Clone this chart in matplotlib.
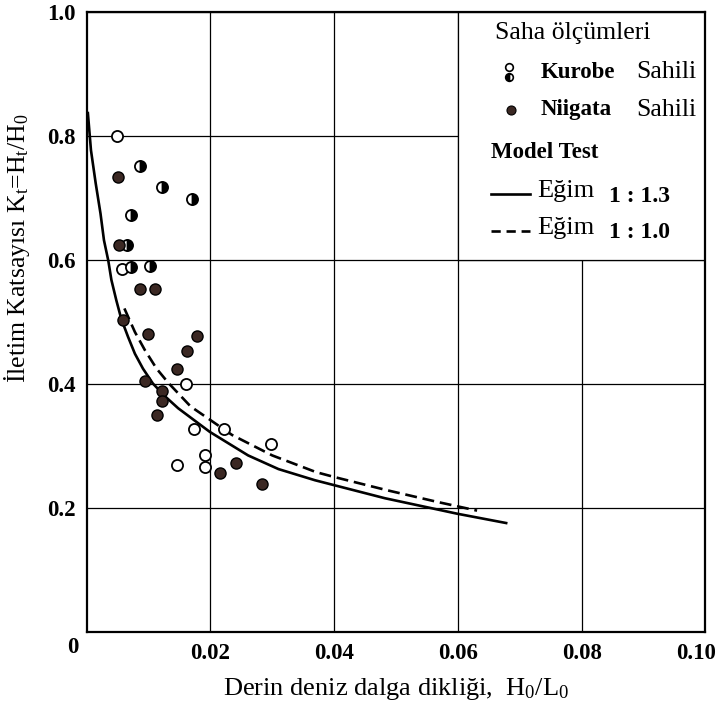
"""
Iletim katsayisi Kt = Ht/H0 terhadap derin deniz dalga dikligi H0/L0.
Saha olcumleri (Kurobe & Niigata) + model test egrileri (egim 1:1.3 dan 1:1.0).
"""

import matplotlib

matplotlib.use("Agg")  # tanpa display
import matplotlib.pyplot as plt
import matplotlib.transforms as mtransforms
from matplotlib.patches import Rectangle

# --- Data: Kurobe Sahili, lingkaran kosong ---
KUROBE_ACIK_X = [0.0049, 0.0057, 0.0160, 0.0173, 0.0222, 0.0298, 0.0191, 0.0146, 0.0192]
KUROBE_ACIK_Y = [0.800, 0.585, 0.400, 0.328, 0.327, 0.304, 0.286, 0.270, 0.266]

# --- Data: Kurobe Sahili, lingkaran setengah isi ---
KUROBE_YARIM_X = [0.0086, 0.0121, 0.0170, 0.0071, 0.0066, 0.0071, 0.0102]
KUROBE_YARIM_Y = [0.752, 0.718, 0.698, 0.672, 0.625, 0.589, 0.590]

# --- Data: Niigata Sahili, lingkaran penuh ---
NIIGATA_X = [0.0050, 0.0053, 0.0086, 0.0111, 0.0059, 0.0099, 0.0178, 0.0163,
             0.0146, 0.0095, 0.0121, 0.0121, 0.0114, 0.0242, 0.0216, 0.0283]
NIIGATA_Y = [0.734, 0.625, 0.554, 0.553, 0.503, 0.480, 0.478, 0.454,
             0.425, 0.405, 0.389, 0.373, 0.350, 0.273, 0.256, 0.239]

# --- Model test: egim 1:1.3 (garis penuh) ---
EGIM13_X = [0.0002, 0.0007, 0.00146, 0.00224, 0.0028, 0.0035, 0.0040, 0.0048,
            0.0056, 0.0067, 0.0078, 0.0091, 0.0107, 0.0127, 0.0148, 0.0199,
            0.0261, 0.0310, 0.0369, 0.0482, 0.0599, 0.0678]
EGIM13_Y = [0.837, 0.777, 0.724, 0.675, 0.632, 0.599, 0.568, 0.535,
            0.505, 0.476, 0.449, 0.425, 0.401, 0.380, 0.361, 0.323,
            0.285, 0.263, 0.245, 0.216, 0.191, 0.176]

# --- Model test: egim 1:1.0 (garis putus) ---
EGIM10_X = [0.0061, 0.0078, 0.0094, 0.0113, 0.0132, 0.0168, 0.0235, 0.0300,
            0.0371, 0.0401, 0.0485, 0.0567, 0.0631]
EGIM10_Y = [0.522, 0.484, 0.455, 0.425, 0.402, 0.364, 0.318, 0.285,
            0.258, 0.250, 0.229, 0.210, 0.196]

X_TICKS = [0.02, 0.04, 0.06, 0.08, 0.10]
X_TICK_LABELS = ["0.02", "0.04", "0.06", "0.08", "0.10"]
Y_TICKS = [0.2, 0.4, 0.6, 0.8, 1.0]
Y_TICK_LABELS = ["0.2", "0.4", "0.6", "0.8", "1.0"]

DOLU = "#3b2823"  # coklat gelap titik Niigata


def main():
    plt.rcParams["font.family"] = ["Liberation Serif", "DejaVu Serif"]
    plt.rcParams["mathtext.fontset"] = "custom"
    plt.rcParams["mathtext.rm"] = "Liberation Serif"
    plt.rcParams["mathtext.it"] = "Liberation Serif:italic"

    fig = plt.figure(figsize=(7.22, 7.04), dpi=100)
    ax = fig.add_axes([0.120, 0.102, 0.857, 0.881])

    ax.set_xlim(0, 0.10)
    ax.set_ylim(0, 1.0)

    # grid hitam tipis, tanpa tick
    ax.set_xticks(X_TICKS)
    ax.set_xticklabels(X_TICK_LABELS, fontsize=16.5, fontweight="bold")
    ax.set_yticks(Y_TICKS)
    ax.set_yticklabels(Y_TICK_LABELS, fontsize=16.5, fontweight="bold")
    ax.tick_params(axis="both", length=0)
    ax.tick_params(axis="x", pad=8)
    ax.tick_params(axis="y", pad=8)
    ax.grid(True, color="black", linewidth=0.9)
    ax.set_axisbelow(True)
    for sp in ax.spines.values():
        sp.set_linewidth(1.6)
        sp.set_zorder(6)

    # label 0.10 digeser sedikit ke kiri supaya tidak terpotong
    lbl = ax.get_xticklabels()[-1]
    lbl.set_transform(lbl.get_transform() + mtransforms.ScaledTranslation(-7 / 72, 0, fig.dpi_scale_trans))

    # "0" di pojok kiri bawah
    ax.text(-0.022, -0.025, "0", transform=ax.transAxes, ha="center", va="center",
            fontsize=16.5, fontweight="bold")

    # kotak legenda menutupi grid kanan atas
    ax.add_patch(Rectangle((0.6, 0.6), 0.4, 0.4, transform=ax.transAxes,
                           facecolor="white", edgecolor="black", linewidth=0.9, zorder=3))

    # 1. Kurva model test
    ax.plot(EGIM13_X, EGIM13_Y, color="black", linewidth=1.9, zorder=4)
    ax.plot(EGIM10_X, EGIM10_Y, color="black", linewidth=1.9, dashes=(4.5, 2.2), zorder=4)

    # 2. Titik saha olcumleri
    ax.plot(KUROBE_ACIK_X, KUROBE_ACIK_Y, "o", ms=8, mfc="white", mec="black", mew=1.3, zorder=5)
    ax.plot(KUROBE_YARIM_X, KUROBE_YARIM_Y, "o", ms=8, fillstyle="right", mfc="black",
            mfcalt="white", mec="black", mew=1.3, zorder=5)
    ax.plot(NIIGATA_X, NIIGATA_Y, "o", ms=8, mfc=DOLU, mec="black", mew=1.0, zorder=5)

    # 3. Isi legenda (koordinat axes)
    tr = ax.transAxes
    ax.text(0.660, 0.966, "Saha ölçümleri", transform=tr, fontsize=18.5, va="center", zorder=7)
    ax.plot([0.683], [0.911], "o", ms=5.5, mfc="white", mec="black", mew=1.2, transform=tr, zorder=7)
    ax.plot([0.683], [0.895], "o", ms=5.5, fillstyle="left", mfc="black", mfcalt="white",
            mec="black", mew=1.2, transform=tr, zorder=7)
    ax.text(0.733, 0.903, "Kurobe", transform=tr, fontsize=16.5, fontweight="bold",
            va="center", zorder=7)
    ax.text(0.888, 0.903, "Sahili", transform=tr, fontsize=18.5, va="center", zorder=7)
    ax.plot([0.686], [0.842], "o", ms=6.5, mfc=DOLU, mec="black", mew=0.8, transform=tr, zorder=7)
    ax.text(0.733, 0.842, "Niigata", transform=tr, fontsize=16.5, fontweight="bold",
            va="center", zorder=7)
    ax.text(0.888, 0.842, "Sahili", transform=tr, fontsize=18.5, va="center", zorder=7)
    ax.text(0.653, 0.773, "Model Test", transform=tr, fontsize=16.5, fontweight="bold",
            va="center", zorder=7)
    ax.plot([0.653, 0.716], [0.706, 0.706], color="black", linewidth=1.9, transform=tr, zorder=7)
    ax.text(0.729, 0.711, "Eğim", transform=tr, fontsize=19, va="center", zorder=7)
    ax.text(0.845, 0.703, "1 : 1.3", transform=tr, fontsize=17, fontweight="bold",
            va="center", zorder=7)
    ax.plot([0.653, 0.716], [0.647, 0.647], color="black", linewidth=1.9, dashes=(3.5, 2.2),
            transform=tr, zorder=7)
    ax.text(0.729, 0.652, "Eğim", transform=tr, fontsize=19, va="center", zorder=7)
    ax.text(0.845, 0.644, "1 : 1.0", transform=tr, fontsize=17, fontweight="bold",
            va="center", zorder=7)

    # 4. Label sumbu
    ax.set_xlabel(r"Derin deniz dalga dikliği,  H$_0$/L$_0$", fontsize=19)
    ax.xaxis.set_label_coords(0.50, -0.070)
    ax.set_ylabel(r"İletim Katsayısı K$_\mathrm{t}$=H$_\mathrm{t}$/H$_0$", fontsize=18.5)
    ax.yaxis.set_label_coords(-0.088, 0.62)

    fig.savefig("out.png", dpi=100)


if __name__ == "__main__":
    main()
